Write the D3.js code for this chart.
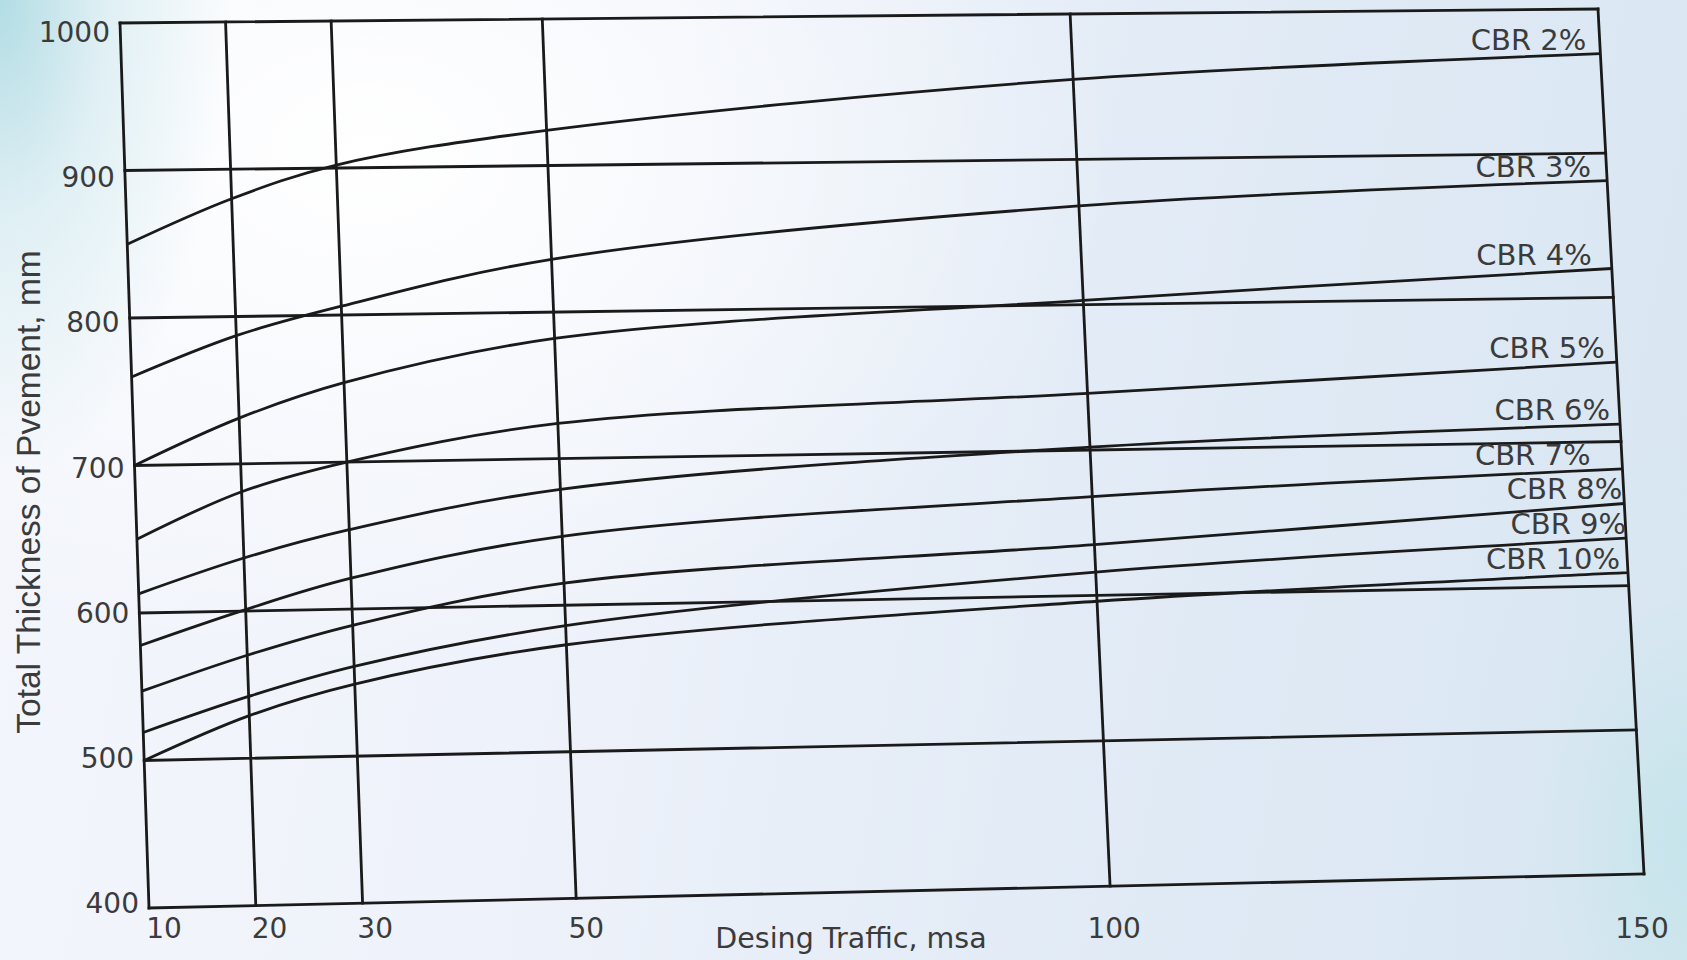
<!DOCTYPE html>
<html>
<head>
<meta charset="utf-8">
<script src="https://cdn.jsdelivr.net/npm/d3@7"></script>
<style>
html, body { margin: 0; padding: 0; width: 1687px; height: 960px; overflow: hidden; }
body {
  background:
    radial-gradient(ellipse 230px 480px at 0% 0%, rgba(175,219,227,0.95) 0%, rgba(205,232,238,0.6) 45%, rgba(255,255,255,0) 100%),
    radial-gradient(ellipse 240px 420px at 100% 88%, rgba(196,228,234,0.9) 0%, rgba(214,232,242,0.3) 60%, rgba(255,255,255,0) 100%),
    radial-gradient(ellipse 750px 520px at 22% 16%, rgba(255,255,255,1) 0%, rgba(255,255,255,0) 100%),
    linear-gradient(100deg, #f4f6fc 0%, #eef2fa 35%, #e2ebf6 65%, #d8e6f2 100%);
}
svg text { font-family: "DejaVu Sans", Verdana, sans-serif; fill: #3b3b3b; }
</style>
</head>
<body>
<svg id="chart" width="1687" height="960"></svg>
<script>
// ---------------- data ----------------
const trafficTicks   = [10, 20, 30, 50, 100, 150];          // msa
const thicknessTicks = [400, 500, 600, 700, 800, 900, 1000]; // mm
const traffic = [10, 20, 30, 50, 100, 150];
const cbrLabels = ["CBR 2%", "CBR 3%", "CBR 4%", "CBR 5%", "CBR 6%", "CBR 7%", "CBR 8%", "CBR 9%", "CBR 10%"];
const cbr2  = [850, 880, 902, 924, 955, 969];
const cbr3  = [760, 787, 806, 836, 868, 881];
const cbr4  = [700, 731, 754, 782, 803, 820];
const cbr5  = [650, 681, 700, 724, 739, 755];
const cbr6  = [613, 636, 654, 679, 702, 712];
const cbr7  = [578, 601, 621, 647, 668, 681];
const cbr8  = [547, 570, 589, 615, 635, 657];
const cbr9  = [519, 542, 561, 586, 616, 633];
const cbr10 = [500, 529, 549, 573, 596, 609];
const seriesValues = [cbr2, cbr3, cbr4, cbr5, cbr6, cbr7, cbr8, cbr9, cbr10];
const xTitle = "Desing Traffic, msa";
const yTitle = "Total Thickness of Pvement, mm";

// ---------------- layout (photographed sheet is slightly skewed) ----------------
const TL = [120, 23], TR = [1598, 9], BL = [149, 908], BR = [1644, 874];
const labelInset = [14, 16, 20, 12, 10, 32, 2, 0, 8];

const svg = d3.select("#chart");
const x = d3.scaleLinear().domain([10, 150]).range([0, 1]);
const y = d3.scaleLinear().domain([1000, 400]).range([0, 1]);

function P(t, h) {
  const u = x(t), v = y(h);
  const a = (1 - u) * (1 - v), b = u * (1 - v), c = (1 - u) * v, d = u * v;
  return [a * TL[0] + b * TR[0] + c * BL[0] + d * BR[0],
          a * TL[1] + b * TR[1] + c * BL[1] + d * BR[1]];
}

const lineColor = "#1a1a1a";
const lw = 2.8;

// grid + frame
const g = svg.append("g");
g.selectAll("line.v").data(trafficTicks).enter().append("line")
  .attr("x1", d => P(d, 1000)[0]).attr("y1", d => P(d, 1000)[1])
  .attr("x2", d => P(d, 400)[0]).attr("y2", d => P(d, 400)[1])
  .attr("stroke", lineColor).attr("stroke-width", lw).attr("stroke-linecap", "square");
g.selectAll("line.h").data(thicknessTicks).enter().append("line")
  .attr("x1", d => P(10, d)[0]).attr("y1", d => P(10, d)[1])
  .attr("x2", d => P(150, d)[0]).attr("y2", d => P(150, d)[1])
  .attr("stroke", lineColor).attr("stroke-width", lw).attr("stroke-linecap", "square");

// curves
const lineGen = d3.line().x(d => d[0]).y(d => d[1]).curve(d3.curveCatmullRom.alpha(0.5));
seriesValues.forEach((vals, i) => {
  const pts = traffic.map((t, j) => P(t, vals[j]));
  g.append("path").attr("d", lineGen(pts))
    .attr("fill", "none").attr("stroke", lineColor).attr("stroke-width", lw)
    .attr("stroke-linejoin", "round");
  const end = P(150, vals[vals.length - 1]);
  g.append("text").text(cbrLabels[i])
    .attr("x", end[0] - labelInset[i]).attr("y", end[1] - 4)
    .attr("text-anchor", "end").style("font-size", "29px");
});

// y tick labels
g.selectAll("text.yt").data(thicknessTicks).enter().append("text")
  .text(d => d)
  .attr("x", d => P(10, d)[0] - 10)
  .attr("y", d => P(10, d)[1] + (9 - 14 * y(d)))
  .attr("dy", "0.36em")
  .attr("text-anchor", "end").style("font-size", "28px");

// x tick labels
g.selectAll("text.xt").data(trafficTicks).enter().append("text")
  .text(d => d)
  .attr("x", d => P(d, 400)[0] + 15 - 17 * x(d))
  .attr("y", BL[1] + 30)
  .attr("text-anchor", "middle").style("font-size", "28px");

// titles
svg.append("text").text(xTitle)
  .attr("x", 851).attr("y", 948).attr("text-anchor", "middle")
  .style("font-size", "28.5px");
svg.append("text").text(yTitle)
  .attr("transform", "translate(40,492) rotate(-90)")
  .attr("text-anchor", "middle")
  .style("font-family", "'Liberation Sans', Arial, sans-serif")
  .style("font-size", "33.5px");
</script>
</body>
</html>
